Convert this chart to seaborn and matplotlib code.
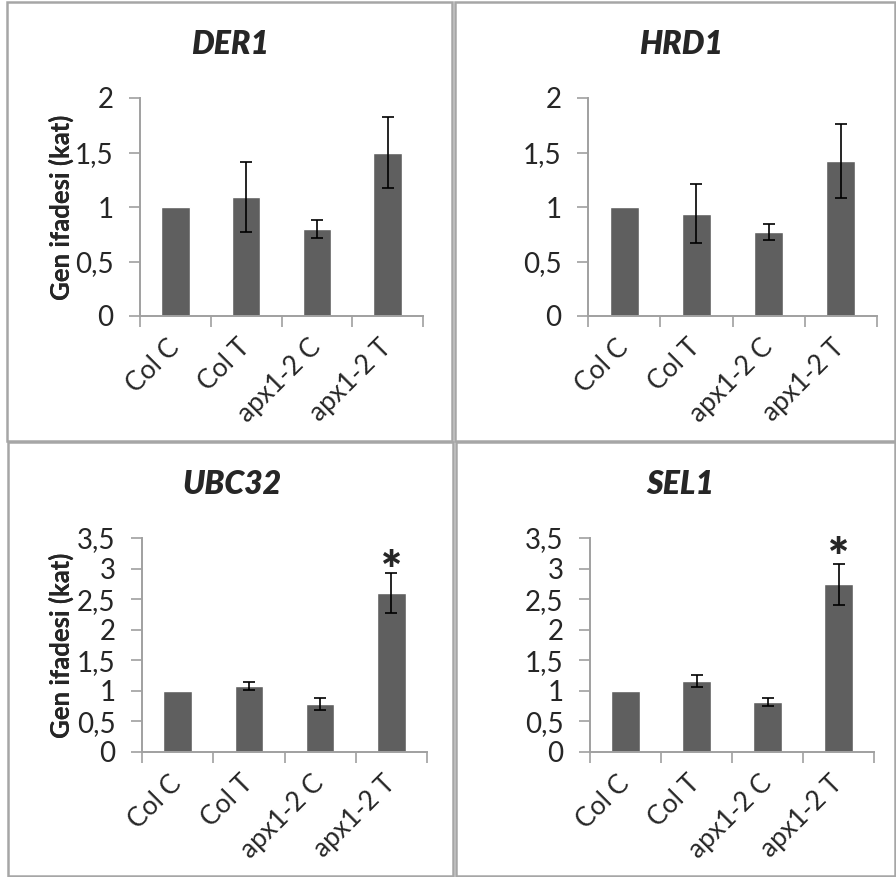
import numpy as np
import seaborn as sns
import matplotlib.pyplot as plt
from matplotlib.patches import Rectangle
from matplotlib.ticker import FixedLocator

plt.switch_backend('Agg')

# Data
groups = ["Col C", "Col T", "apx1-2 C", "apx1-2 T"]
der1_mean = [1.0, 1.09, 0.80, 1.50]
der1_err = [0.0, 0.32, 0.08, 0.33]
hrd1_mean = [1.0, 0.94, 0.77, 1.42]
hrd1_err = [0.0, 0.27, 0.07, 0.34]
ubc32_mean = [1.0, 1.08, 0.78, 2.60]
ubc32_err = [0.0, 0.07, 0.10, 0.33]
sel1_mean = [1.0, 1.16, 0.82, 2.74]
sel1_err = [0.0, 0.10, 0.07, 0.34]
ylabel = "Gen ifadesi (kat)"

sns.set_theme(style="white")
plt.rcParams['font.family'] = ['Lato', 'DejaVu Sans']

W, H = 896, 877
fig = plt.figure(figsize=(W / 100, H / 100), dpi=100)

BAR = "#5f5f5f"
AXC = "#a0a0a0"


def px_axes(x0, x1, y0, y1):
    # pixel box (top-left origin) -> figure fraction
    return fig.add_axes([x0 / W, 1 - y1 / H, (x1 - x0) / W, (y1 - y0) / H])


def panel(box, title, title_xy, axbox, mean, err, ymax, star=None):
    x0, y0, x1, y1 = box
    fig.patches.append(Rectangle((x0 / W, 1 - y1 / H), (x1 - x0) / W, (y1 - y0) / H,
                                 transform=fig.transFigure, fill=False,
                                 edgecolor="#a6a6a6", linewidth=1.8))
    fig.text(title_xy[0] / W, 1 - title_xy[1] / H, title, fontsize=23,
             fontweight="heavy", fontstyle="italic", ha="center", va="center")

    ax = px_axes(*axbox)
    sns.barplot(x=groups, y=mean, color=BAR, saturation=1, width=0.4, ax=ax)
    idx = [i for i, e in enumerate(err) if e > 0]
    ax.errorbar(idx, [mean[i] for i in idx], yerr=[err[i] for i in idx],
                fmt="none", ecolor="black", elinewidth=1.2, capsize=4, capthick=1.2)
    if star is not None:
        ax.text(3, star, "*", fontsize=36, fontweight="heavy", ha="center", va="center")

    ax.set_xlim(-0.5, 3.5)
    ax.set_ylim(0, ymax)
    yt = np.arange(0, ymax + 0.01, 0.5)
    ax.set_yticks(yt)
    ax.set_yticklabels([f"{v:g}".replace(".", ",") for v in yt], fontsize=20)
    ax.set_xticks(range(len(groups)))
    ax.set_xticklabels(groups, fontsize=19, rotation=45, ha="right",
                       va="center", rotation_mode="anchor")
    ax.xaxis.set_minor_locator(FixedLocator(np.arange(-0.5, 4, 1)))
    ax.tick_params(axis="x", which="major", length=0, pad=20)
    ax.tick_params(axis="x", which="minor", length=8, width=1.2, color=AXC, bottom=True)
    ax.tick_params(axis="y", length=8, width=1.2, color=AXC, left=True, pad=11)
    for s in ["top", "right"]:
        ax.spines[s].set_visible(False)
    for s in ["left", "bottom"]:
        ax.spines[s].set_color(AXC)
        ax.spines[s].set_linewidth(1.4)
    ax.set_ylabel(ylabel, fontsize=18.5, fontweight="bold")
    ax.yaxis.label.set_va("center")
    ax.yaxis.set_label_coords((61 - axbox[0]) / (axbox[1] - axbox[0]), 0.5)
    ax.set_facecolor("white")
    return ax


panel((7, 2, 452, 441), "DER1", (230, 45), (140, 423, 98, 316), der1_mean, der1_err, 2)
panel((455, 2, 895, 441), "HRD1", (681, 45), (588, 877, 98, 316), hrd1_mean, hrd1_err, 2)
panel((8, 442, 453, 876), "UBC32", (232, 485), (142, 427, 538, 752), ubc32_mean, ubc32_err, 3.5, star=2.93)
panel((456, 442, 895, 876), "SEL1", (680, 485), (590, 874, 538, 752), sel1_mean, sel1_err, 3.5, star=3.15)

fig.savefig("out.png", dpi=100, facecolor="white")
